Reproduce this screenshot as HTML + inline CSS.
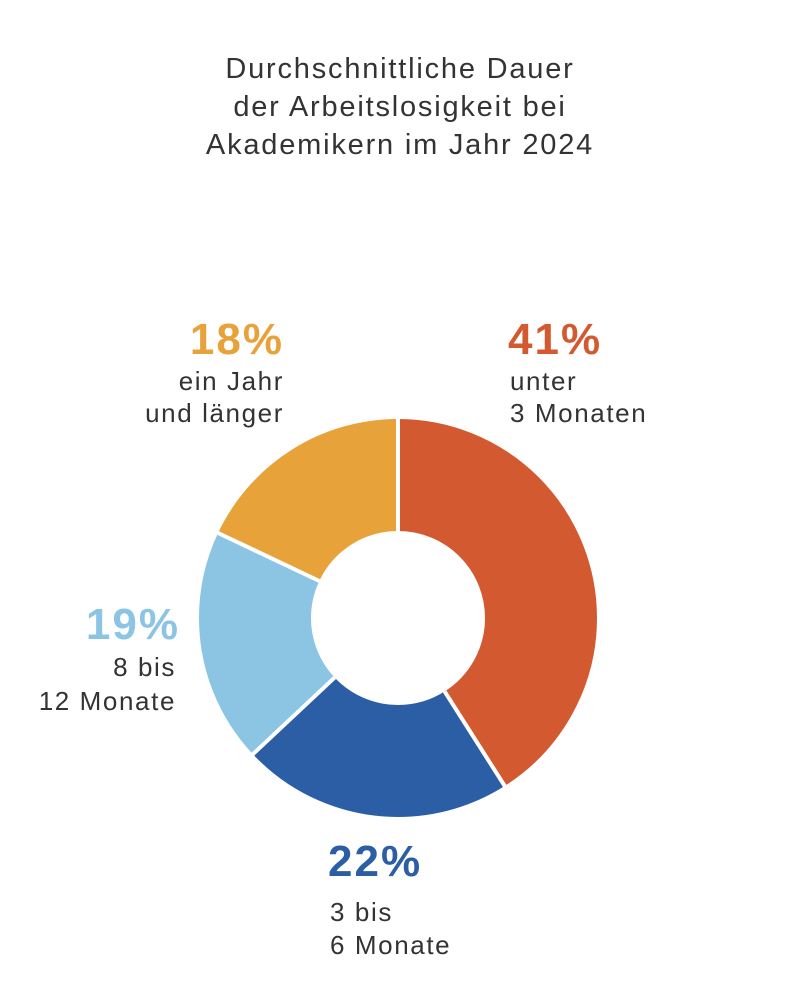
<!DOCTYPE html>
<html><head><meta charset="utf-8"><style>
body{margin:0;width:800px;height:990px;background:#fff;overflow:hidden;font-family:"Liberation Sans",sans-serif;}
</style></head><body>
<svg width="800" height="990" viewBox="0 0 800 990" xmlns="http://www.w3.org/2000/svg" font-family="Liberation Sans, sans-serif">
<g font-size="29" fill="#333" text-anchor="middle" letter-spacing="1.8">
<text x="400" y="78">Durchschnittliche Dauer</text>
<text x="400" y="116">der Arbeitslosigkeit bei</text>
<text x="400" y="154">Akademikern im Jahr 2024</text>
</g>
<g transform="rotate(-90 398 618)" fill="none" stroke-width="112">
<circle cx="398" cy="618" r="143" stroke="#d35a30" stroke-dasharray="368.4 898.5" stroke-dashoffset="0"/>
<circle cx="398" cy="618" r="143" stroke="#2b5ea5" stroke-dasharray="197.7 898.5" stroke-dashoffset="-368.4"/>
<circle cx="398" cy="618" r="143" stroke="#8cc4e4" stroke-dasharray="170.7 898.5" stroke-dashoffset="-566.1"/>
<circle cx="398" cy="618" r="143" stroke="#e8a23a" stroke-dasharray="161.7 898.5" stroke-dashoffset="-736.8"/>
</g>
<g stroke="#fff" stroke-width="4">
<line x1="398" y1="531" x2="398" y2="416"/>
<line x1="444.6" y1="691.4" x2="506" y2="788"/>
<line x1="334.6" y1="677.6" x2="251" y2="756"/>
<line x1="319.3" y1="581" x2="216" y2="532"/>
</g>
<g font-weight="bold" font-size="44" letter-spacing="2">
<text x="508" y="354" fill="#d35a30">41%</text>
<text x="284" y="354" fill="#e8a23a" text-anchor="end">18%</text>
<text x="180" y="639" fill="#8cc4e4" text-anchor="end">19%</text>
<text x="328" y="876" fill="#2b5ea5">22%</text>
</g>
<g font-size="26" fill="#333" letter-spacing="1.6">
<text x="510" y="390">unter</text>
<text x="510" y="422">3 Monaten</text>
<text x="284" y="390" text-anchor="end">ein Jahr</text>
<text x="284" y="422" text-anchor="end">und länger</text>
<text x="176" y="676" text-anchor="end">8 bis</text>
<text x="176" y="710" text-anchor="end">12 Monate</text>
<text x="330" y="921">3 bis</text>
<text x="330" y="954">6 Monate</text>
</g>
</svg>
</body></html>
